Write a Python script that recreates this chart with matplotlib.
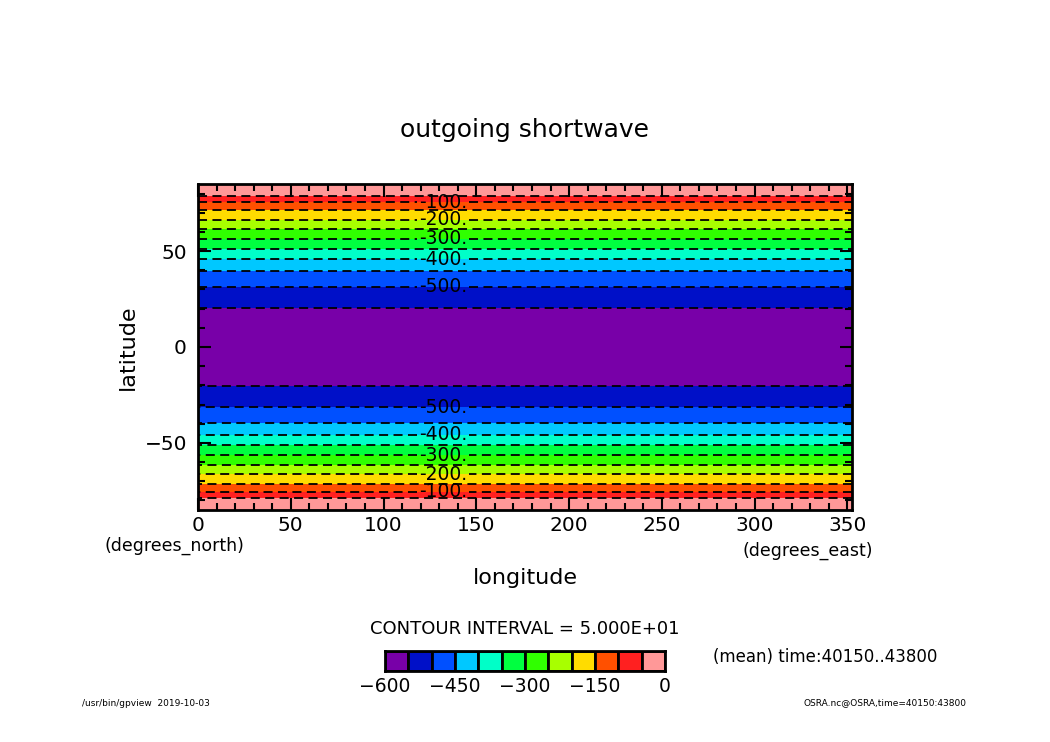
import numpy as np
import matplotlib
matplotlib.use('Agg')
import matplotlib.pyplot as plt
from matplotlib.colors import ListedColormap, BoundaryNorm
from matplotlib.ticker import MultipleLocator

# latitude profile of outgoing shortwave (same at every longitude)
lat = [-85, -80, -75, -70, -65, -60, -55, -50, -45, -40, -35, -30, -25, -20, -15, -10, -5,
       0, 5, 10, 15, 20, 25, 30, 35, 40, 45, 50, 55, 60, 65, 70, 75, 80, 85]
osr = [-15, -35, -105, -165, -212, -265, -313, -363, -407, -447, -478, -508, -530, -552, -562, -570, -575,
       -577, -575, -570, -562, -552, -530, -508, -478, -447, -407, -363, -313, -265, -212, -165, -105, -35, -15]
lon = np.linspace(0, 352.5, 48)

levels = np.arange(-600, 1, 50)
colors = ['#7800a8', '#0010c8', '#0050ff', '#00c8ff', '#00ffc8', '#00ff40',
          '#30ff00', '#a8ff00', '#ffdc00', '#ff5000', '#ff2020', '#ff9898']
cbar_ticks = [-600, -450, -300, -150, 0]
lab_levels = [-500, -400, -300, -200, -100]
plain_levels = [-550, -450, -350, -250, -150, -50]

cmap = ListedColormap(colors)
norm = BoundaryNorm(levels, cmap.N)

W, H = 1050, 742
fig = plt.figure(figsize=(10.5, 7.42), dpi=100)

def fx(px):
    return px / W

def fy(py):
    return 1 - py / H

ax = fig.add_axes([fx(198), fy(510), fx(852 - 198), (510 - 184) / H])
LON, LAT = np.meshgrid(lon, lat)
Z = np.tile(np.array(osr, dtype=float)[:, None], (1, len(lon)))
ax.contourf(LON, LAT, Z, levels=levels, cmap=cmap, norm=norm)
dash = [(0, (5, 3))]
ax.contour(LON, LAT, Z, levels=plain_levels, colors='black', linewidths=1.3, linestyles=dash)
cs = ax.contour(LON, LAT, Z, levels=lab_levels, colors='black', linewidths=1.3, linestyles=dash)
ax.clabel(cs, inline=True, inline_spacing=2, fontsize=13.5, fmt=lambda v: f"{v:.0f}.",
          manual=[(132, s * y) for s in (1, -1) for y in (31.3, 45.8, 56.3, 66.1, 75.5)])

ax.set_xlim(0, 352.5)
ax.set_ylim(-85, 85)
ax.xaxis.set_major_locator(MultipleLocator(50))
ax.xaxis.set_minor_locator(MultipleLocator(10))
ax.yaxis.set_major_locator(MultipleLocator(50))
ax.yaxis.set_minor_locator(MultipleLocator(10))
ax.tick_params(which='both', direction='in', top=True, right=True, width=1.5, labelsize=14.5)
ax.tick_params(which='major', length=9)
ax.tick_params(which='minor', length=5)
ax.tick_params(axis='x', pad=4)
ax.tick_params(axis='y', pad=8)
for sp in ax.spines.values():
    sp.set_linewidth(2)

fig.text(fx(525), fy(130), 'outgoing shortwave', ha='center', va='center', fontsize=18)
fig.text(fx(128), fy(347), 'latitude', ha='center', va='center', rotation=90, fontsize=16)
fig.text(fx(525), fy(578), 'longitude', ha='center', va='center', fontsize=16)
fig.text(fx(105), fy(546), '(degrees_north)', ha='left', va='center', fontsize=12.5)
fig.text(fx(873), fy(551), '(degrees_east)', ha='right', va='center', fontsize=12.5)

fig.text(fx(525), fy(629), 'CONTOUR INTERVAL = 5.000E+01', ha='center', va='center', fontsize=13)
fig.text(fx(713), fy(657), '(mean) time:40150..43800', ha='left', va='center', fontsize=12)
fig.text(fx(82), fy(703), '/usr/bin/gpview  2019-10-03', ha='left', va='center', fontsize=6.5)
fig.text(fx(967), fy(703), 'OSRA.nc@OSRA,time=40150:43800', ha='right', va='center', fontsize=6.5)

cax = fig.add_axes([fx(385), fy(671), fx(665 - 385), 20 / H])
for i in range(len(colors)):
    cax.bar(levels[i], 1, width=50, align='edge', color=colors[i], edgecolor='black', linewidth=2)
cax.set_xlim(-600, 0)
cax.set_ylim(0, 1)
cax.set_yticks([])
cax.set_xticks(cbar_ticks)
cax.set_xticklabels([str(t).replace('-', '\u2212') for t in cbar_ticks])
cax.tick_params(axis='x', direction='in', length=3, labelsize=13.5, pad=4)
for sp in cax.spines.values():
    sp.set_linewidth(2)

fig.savefig('out.png', dpi=100)
